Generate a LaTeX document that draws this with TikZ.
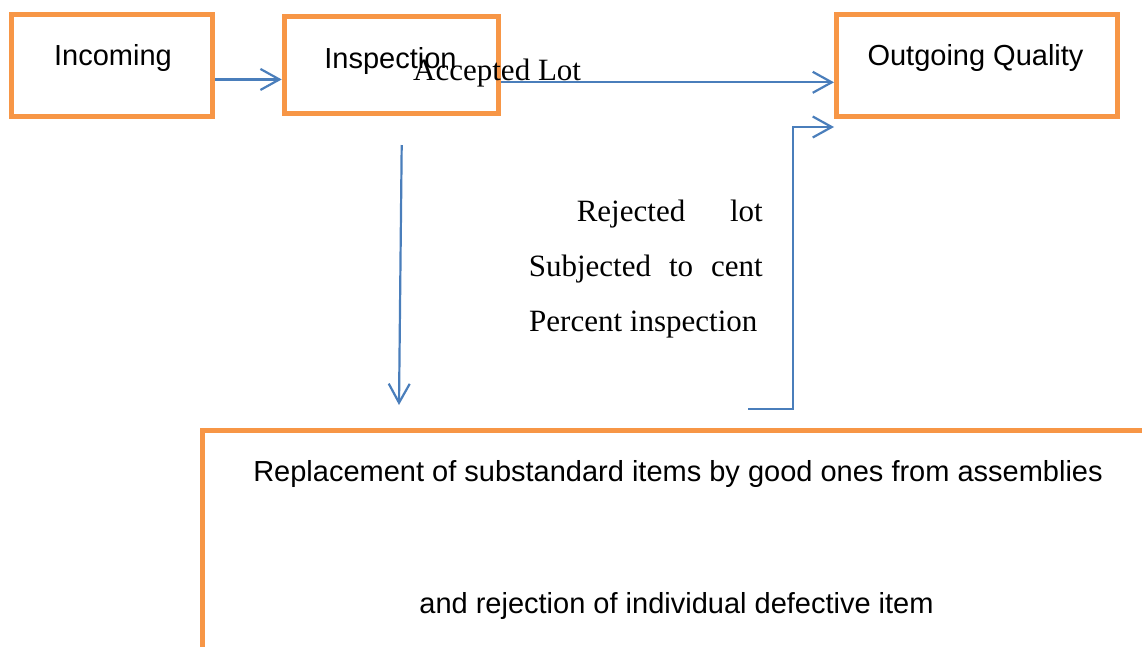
\documentclass[tikz,border=0pt]{standalone}
\usepackage{fontspec}
\setmainfont{Liberation Serif}
\newfontfamily\arialf{Liberation Sans}
\usetikzlibrary{arrows.meta,calc}
\definecolor{boxorange}{HTML}{F79646}
\definecolor{lineblue}{HTML}{4A7EBB}
\begin{document}
\begin{tikzpicture}[x=1pt,y=-1pt,
  obox/.style={draw=boxorange, line width=5pt, inner sep=0pt, anchor=north west},
  sans/.style={font=\arialf\fontsize{29}{35}\selectfont, inner sep=0pt, anchor=base},
  serif/.style={font=\fontsize{31}{37}\selectfont, inner sep=0pt},
  arr/.style={draw=lineblue, line width=2.2pt, -{Straight Barb[length=19pt,width=21pt]}}]
\useasboundingbox (0,0) rectangle (1142,646);
\clip (0,0) rectangle (1142,646);
% boxes
\node[obox, minimum width=201pt, minimum height=102.5pt] (inc) at (9.3,11.7) {};
\node[obox, minimum width=214.4pt, minimum height=97.2pt] (insp) at (281.7,14) {};
\node[obox, minimum width=281pt, minimum height=102.5pt] (out) at (834,11.7) {};
\node[obox, minimum width=1000pt, minimum height=300pt] (repl) at (199.5,427.5) {};
% box texts
\node[sans] (tinc) at (113,65) {Incoming};
\node[sans] (tinsp) at (390.5,68.3) {Inspection};
\node[sans] (tout) at (975.5,65) {Outgoing Quality};
\node[sans] (trepl1) at (678,481) {Replacement of substandard items by good ones from assemblies};
\node[sans] (trepl2) at (676.5,613) {and rejection of individual defective item};
% connector coordinates
\coordinate (ds) at (401.7,145);
\coordinate (de) at (399,405);
\coordinate (rs) at (748,409);
\coordinate (rc) at (793,127);
% connectors
\draw[arr] ([yshift=-14pt]inc.east) -- ([yshift=-14pt]inc.east -| insp.west);
\draw[arr] ([yshift=-17.2pt]insp.east) -- ([yshift=-17.2pt]insp.east -| out.west);
\draw[arr] (ds) -- (de);
\draw[arr] (rs) -| (rc) -- (rc -| out.west);
% labels
\node[serif, anchor=base west] (acc) at (413,80) {Accepted Lot};
\node[serif, anchor=base east] (rej1) at (763,221.7) {\hbox to 186pt{Rejected\hfill lot}};
\node[serif, anchor=base east] (rej2) at (763,276.7) {\hbox to 234pt{Subjected\hfill to\hfill cent}};
\node[serif, anchor=base west] (rej3) at (529,331.7) {Percent inspection};
\end{tikzpicture}
\end{document}
